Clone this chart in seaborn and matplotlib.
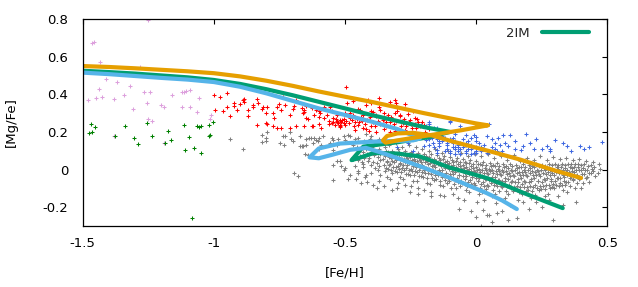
import matplotlib
matplotlib.use("Agg")
import matplotlib.pyplot as plt
import numpy as np
import seaborn as sns

# ---- thick model tracks ([Fe/H], [Mg/Fe]) ----
orange_feh = [-1.5, -1.4, -1.3, -1.2, -1.1, -1.0, -0.9, -0.8, -0.7, -0.6, -0.5, -0.4,
              -0.3, -0.2, -0.1, 0.0, 0.045,
              -0.06, -0.18, -0.3, -0.345, -0.355, -0.34, -0.3, -0.24, -0.17,
              -0.09, 0.05, 0.17, 0.3, 0.4]
orange_mgfe = [0.55, 0.545, 0.538, 0.53, 0.522, 0.512, 0.495, 0.472, 0.445, 0.415, 0.387, 0.36,
               0.33, 0.3, 0.272, 0.245, 0.235,
               0.208, 0.182, 0.155, 0.143, 0.155, 0.178, 0.192, 0.195, 0.182,
               0.149, 0.098, 0.052, -0.005, -0.045]

green_feh = [-1.5, -1.4, -1.3, -1.2, -1.1, -1.0, -0.9, -0.8, -0.7, -0.6, -0.5, -0.4,
             -0.3, -0.2, -0.1,
             -0.18, -0.3, -0.43, -0.475, -0.45, -0.39, -0.3, -0.215,
             -0.1, 0.04, 0.09, 0.2, 0.33]
green_mgfe = [0.525, 0.518, 0.51, 0.5, 0.49, 0.476, 0.455, 0.427, 0.395, 0.36, 0.325, 0.29,
              0.258, 0.226, 0.2,
              0.172, 0.145, 0.122, 0.05, 0.06, 0.088, 0.085, 0.07,
              0.01, -0.045, -0.072, -0.135, -0.205]

blue_feh = [-1.5, -1.4, -1.3, -1.2, -1.1, -1.0, -0.9, -0.8, -0.7, -0.6, -0.5, -0.4,
            -0.3, -0.24, -0.215,
            -0.24, -0.3, -0.4, -0.52, -0.6, -0.635, -0.6, -0.55, -0.48, -0.42,
            -0.35, -0.2, -0.08, 0.04, 0.1, 0.155]
blue_mgfe = [0.515, 0.507, 0.497, 0.487, 0.478, 0.465, 0.44, 0.405, 0.365, 0.325, 0.29, 0.255,
             0.215, 0.18, 0.165,
             0.155, 0.152, 0.148, 0.138, 0.112, 0.065, 0.06, 0.078, 0.105, 0.115,
             0.085, 0.01, -0.055, -0.125, -0.165, -0.21]

# ---- observed stars ----
pink_pts = [(-1.463, 0.675), (-1.458, 0.68), (-1.433, 0.57), (-1.48, 0.367), (-1.45, 0.38),
            (-1.437, 0.43), (-1.425, 0.388), (-1.41, 0.48), (-1.38, 0.374), (-1.37, 0.464),
            (-1.38, 0.179), (-1.342, 0.397), (-1.318, 0.445), (-1.308, 0.321), (-1.28, 0.547),
            (-1.268, 0.414), (-1.245, 0.414), (-1.256, 0.353), (-1.25, 0.27), (-1.237, 0.26),
            (-1.25, 0.795), (-1.2, 0.344), (-1.19, 0.335), (-1.158, 0.395), (-1.12, 0.414),
            (-1.114, 0.411), (-1.108, 0.42), (-1.09, 0.423), (-1.12, 0.332), (-1.09, 0.332),
            (-1.057, 0.381), (-1.065, 0.308), (-1.013, 0.27), (-1.01, 0.29), (-1.19, 0.14)]

green_pts = [(-1.467, 0.243), (-1.477, 0.194), (-1.464, 0.197), (-1.455, 0.225), (-1.375, 0.179),
             (-1.34, 0.232), (-1.303, 0.17), (-1.288, 0.135), (-1.253, 0.248), (-1.235, 0.179),
             (-1.186, 0.14), (-1.176, 0.206), (-1.162, 0.155), (-1.115, 0.236), (-1.095, 0.172),
             (-1.074, 0.117), (-1.064, 0.234), (-1.058, 0.228), (-1.05, 0.234), (-1.02, 0.236),
             (-1.005, 0.252), (-1.015, 0.185), (-1.02, 0.18), (-1.11, 0.103), (-1.05, 0.087),
             (-1.084, -0.257)]

red_pts = [(-1.0, 0.397), (-0.975, 0.388), (-0.95, 0.406), (-0.996, 0.317), (-0.964, 0.312),
           (-0.939, 0.282), (-0.924, 0.353), (-0.925, 0.34), (-0.913, 0.317), (-0.887, 0.37),
           (-0.885, 0.375), (-0.884, 0.36), (-0.868, 0.317), (-0.852, 0.344), (-0.837, 0.377),
           (-0.83, 0.355), (-0.818, 0.321), (-0.814, 0.33), (-0.797, 0.335), (-0.775, 0.3),
           (-0.772, 0.273), (-0.76, 0.335), (-0.745, 0.317), (-0.735, 0.388), (-0.73, 0.345),
           (-0.71, 0.29), (-0.695, 0.338), (-0.685, 0.367), (-0.663, 0.326), (-0.66, 0.3),
           (-0.655, 0.308), (-0.625, 0.326), (-0.62, 0.29), (-0.6, 0.28), (-0.775, 0.229),
           (-0.76, 0.223), (-0.745, 0.22), (-0.797, 0.241), (-0.837, 0.238), (-0.8, 0.245),
           (-0.71, 0.22), (-0.685, 0.232), (-0.657, 0.229), (-0.625, 0.234), (-0.6, 0.24),
           (-0.868, 0.287), (-0.495, 0.438), (-0.657, 0.317), (-0.65, 0.273), (-0.612, 0.317),
           (-0.594, 0.3), (-0.58, 0.273), (-0.556, 0.335), (-0.55, 0.247), (-0.53, 0.255),
           (-0.518, 0.264), (-0.505, 0.247), (-0.52, 0.235), (-0.493, 0.353), (-0.48, 0.273),
           (-0.47, 0.29), (-0.45, 0.238), (-0.443, 0.317), (-0.43, 0.22), (-0.418, 0.264),
           (-0.412, 0.37), (-0.4, 0.353), (-0.393, 0.308), (-0.38, 0.282), (-0.368, 0.317),
           (-0.355, 0.264), (-0.342, 0.229), (-0.336, 0.29), (-0.31, 0.37), (-0.304, 0.353),
           (-0.291, 0.29), (-0.279, 0.247), (-0.266, 0.229), (-0.253, 0.264), (-0.234, 0.273),
           (-0.228, 0.22), (-0.215, 0.229), (-0.196, 0.202), (-0.622, 0.229), (-0.59, 0.22),
           (-0.56, 0.24), (-0.52, 0.23), (-0.42, 0.215), (-0.41, 0.205), (-0.38, 0.2),
           (-0.33, 0.2), (-0.31, 0.205), (-0.545, 0.273), (-0.53, 0.26), (-0.51, 0.265),
           (-0.5, 0.238), (-0.52, 0.228), (-0.54, 0.238), (-0.48, 0.3), (-0.46, 0.25),
           (-0.44, 0.28), (-0.41, 0.265), (-0.4, 0.23), (-0.38, 0.29), (-0.37, 0.33),
           (-0.35, 0.27), (-0.33, 0.255), (-0.31, 0.3), (-0.3, 0.33), (-0.29, 0.285),
           (-0.275, 0.255), (-0.27, 0.35), (-0.26, 0.295), (-0.24, 0.31), (-0.37, 0.38),
           (-0.33, 0.36), (-0.47, 0.365), (-0.42, 0.345), (-0.25, 0.24), (-0.22, 0.255),
           (-0.2, 0.235), (-0.18, 0.215), (-0.64, 0.27), (-0.57, 0.29), (-0.46, 0.21),
           (-0.35, 0.215), (-0.27, 0.21),
           (-0.56, 0.26), (-0.545, 0.25), (-0.535, 0.27), (-0.525, 0.245), (-0.515, 0.255),
           (-0.505, 0.27), (-0.495, 0.26), (-0.485, 0.245), (-0.475, 0.265), (-0.465, 0.23),
           (-0.455, 0.27), (-0.445, 0.25), (-0.435, 0.26), (-0.425, 0.24), (-0.405, 0.28),
           (-0.395, 0.25), (-0.385, 0.23), (-0.375, 0.26), (-0.365, 0.24), (-0.345, 0.25),
           (-0.325, 0.28), (-0.315, 0.24), (-0.305, 0.26), (-0.285, 0.23), (-0.275, 0.27),
           (-0.255, 0.25), (-0.245, 0.22), (-0.235, 0.24), (-0.225, 0.27), (-0.205, 0.25),
           (-0.5, 0.3), (-0.45, 0.32), (-0.4, 0.31), (-0.35, 0.3), (-0.3, 0.31),
           (-0.55, 0.31), (-0.6, 0.31), (-0.65, 0.34), (-0.7, 0.32), (-0.75, 0.35),
           (-0.8, 0.3), (-0.85, 0.33), (-0.9, 0.35), (-0.95, 0.33), (-0.58, 0.33),
           (-0.53, 0.29), (-0.43, 0.29)]

blue_pts = [(-0.21, 0.238), (-0.18, 0.24), (-0.16, 0.22), (-0.1, 0.25), (-0.06, 0.229),
            (0.05, 0.241), (-0.037, 0.185), (-0.01, 0.185), (0.0, 0.175), (0.04, 0.18),
            (0.103, 0.185), (0.13, 0.185), (0.19, 0.19), (0.23, 0.162), (0.3, 0.158),
            (0.479, 0.146), (0.396, 0.123), (0.41, 0.11), (0.345, 0.123), (0.27, 0.123),
            (0.28, 0.11), (0.25, 0.11), (0.205, 0.14), (0.18, 0.123), (0.15, 0.11),
            (0.12, 0.123), (0.1, 0.1), (0.07, 0.11), (0.05, 0.095), (0.025, 0.11),
            (0.0, 0.09), (-0.02, 0.11), (-0.04, 0.09), (-0.06, 0.08), (-0.08, 0.12),
            (-0.09, 0.14), (-0.113, 0.14), (-0.14, 0.123), (-0.165, 0.14), (-0.19, 0.158),
            (-0.2, 0.123), (-0.15, 0.105), (-0.1, 0.1), (-0.07, 0.12), (-0.04, 0.14),
            (0.0, 0.15), (0.07, 0.14), (0.17, 0.105), (0.22, 0.11), (0.28, 0.1),
            (-0.15, 0.16), (-0.13, 0.15), (-0.12, 0.17), (-0.11, 0.13), (-0.1, 0.16),
            (-0.09, 0.12), (-0.08, 0.15), (-0.07, 0.1), (-0.06, 0.14), (-0.05, 0.12),
            (-0.04, 0.1), (-0.03, 0.15), (-0.02, 0.13), (-0.01, 0.09), (0.0, 0.12),
            (0.01, 0.14), (0.02, 0.1), (0.03, 0.13), (-0.14, 0.14), (-0.16, 0.12),
            (-0.12, 0.1), (-0.1, 0.09), (-0.08, 0.08), (-0.06, 0.11), (-0.04, 0.13),
            (-0.02, 0.08), (0.0, 0.1), (0.02, 0.12), (0.04, 0.09), (-0.17, 0.17),
            (-0.13, 0.18), (-0.09, 0.17), (-0.05, 0.16), (-0.11, 0.11), (-0.07, 0.13),
            (-0.03, 0.11), (-0.15, 0.09), (0.06, 0.12), (0.08, 0.1), (0.09, 0.13),
            (-0.19, 0.229), (-0.18, 0.25), (-0.15, 0.22), (-0.1, 0.26), (-0.14, 0.15),
            (-0.18, 0.16), (-0.08, 0.19), (-0.08, 0.11), (0.084, 0.167), (-0.18, 0.13),
            (-0.26, 0.14), (-0.3, 0.12), (-0.24, 0.1), (0.33, 0.14), (0.36, 0.1),
            (0.43, 0.12), (0.15, 0.15), (0.11, 0.14), (-0.02, 0.17), (0.06, 0.16)]

gray_pts = [
    # sparse metal-poor tail
    (-0.94, 0.162), (-0.887, 0.11), (-0.818, 0.185), (-0.8, 0.17), (-0.803, 0.15), (-0.818, 0.146),
    (-0.747, 0.14), (-0.73, 0.18), (-0.733, 0.13), (-0.705, 0.16), (-0.7, 0.15), (-0.663, 0.123),
    (-0.65, 0.13), (-0.672, 0.125), (-0.62, 0.17), (-0.623, 0.14), (-0.6, 0.11), (-0.603, 0.15),
    (-0.695, -0.019), (-0.68, -0.033), (-0.66, 0.123), (-0.63, 0.167), (-0.598, 0.167), (-0.585, 0.18),
    (-0.546, 0.158), (-0.53, 0.13), (-0.5, 0.158), (-0.49, 0.185), (-0.546, 0.026), (-0.53, 0.045),
    (-0.515, 0.02), (-0.5, 0.01), (-0.505, 0.0), (-0.48, -0.028), (-0.546, -0.054), (-0.49, -0.05),
    (-0.45, -0.01), (-0.46, 0.02), (-0.445, 0.06), (-0.43, 0.03), (-0.654, 0.08), (-0.64, 0.075),
    (-0.636, 0.167), (-0.55, 0.17), (-0.502, 0.18), (-0.47, 0.13), (-0.557, 0.14), (-0.528, 0.16),
    (-0.48, 0.18), (-0.45, 0.17), (-0.42, 0.19), (-0.4, 0.18), (-0.37, 0.16), (-0.61, 0.158),
    (-0.59, 0.13), (-0.546, 0.105), (-0.52, 0.043), (-0.44, -0.07), (-0.42, -0.03), (-0.797, 0.2),
    (-0.735, 0.18), (-0.71, 0.2), (-0.67, 0.18), (-0.65, 0.16),
    # main thin-disc cloud
    (-0.462, 0.16), (-0.455, 0.12), (-0.447, 0.1), (-0.458, 0.085), (-0.441, 0.07), (-0.452, 0.05),
    (-0.436, 0.04), (-0.449, -0.02), (-0.457, -0.05),
    (-0.428, 0.15), (-0.421, 0.11), (-0.433, 0.095), (-0.417, 0.08), (-0.426, 0.06), (-0.414, 0.045),
    (-0.43, 0.012), (-0.422, -0.04), (-0.418, -0.065),
    (-0.405, 0.16), (-0.398, 0.12), (-0.393, 0.1), (-0.401, 0.09), (-0.389, 0.075), (-0.407, 0.06),
    (-0.395, 0.04), (-0.402, 0.025), (-0.386, 0.01), (-0.399, -0.02), (-0.392, -0.08),
    (-0.381, 0.14), (-0.372, 0.11), (-0.378, 0.095), (-0.368, 0.08), (-0.376, 0.065), (-0.365, 0.05),
    (-0.379, 0.035), (-0.37, 0.02), (-0.374, 0.0), (-0.367, -0.03), (-0.371, -0.06), (-0.377, -0.1),
    (-0.356, 0.15), (-0.349, 0.12), (-0.343, 0.1), (-0.352, 0.085), (-0.346, 0.07), (-0.355, 0.055),
    (-0.341, 0.04), (-0.35, 0.025), (-0.344, 0.01), (-0.348, -0.01), (-0.339, -0.04), (-0.353, -0.09),
    (-0.331, 0.13), (-0.322, 0.1), (-0.328, 0.09), (-0.318, 0.075), (-0.326, 0.06), (-0.32, 0.045),
    (-0.33, 0.03), (-0.316, 0.015), (-0.324, 0.0), (-0.319, -0.02), (-0.327, -0.05), (-0.321, -0.11),
    (-0.306, 0.14), (-0.298, 0.11), (-0.293, 0.095), (-0.301, 0.08), (-0.295, 0.065), (-0.304, 0.05),
    (-0.291, 0.035), (-0.299, 0.02), (-0.294, 0.005), (-0.302, -0.015), (-0.289, -0.04), (-0.297, -0.07),
    (-0.3, -0.1),
    (-0.281, 0.12), (-0.272, 0.1), (-0.278, 0.085), (-0.268, 0.07), (-0.276, 0.055), (-0.27, 0.04),
    (-0.279, 0.025), (-0.266, 0.01), (-0.274, -0.005), (-0.269, -0.025), (-0.277, -0.05), (-0.271, -0.08),
    (-0.256, 0.13), (-0.249, 0.095), (-0.243, 0.08), (-0.252, 0.065), (-0.246, 0.05), (-0.255, 0.035),
    (-0.241, 0.02), (-0.25, 0.005), (-0.244, -0.01), (-0.253, -0.03), (-0.239, -0.06), (-0.247, -0.09),
    (-0.251, -0.12),
    (-0.231, 0.12), (-0.222, 0.09), (-0.228, 0.075), (-0.218, 0.06), (-0.226, 0.045), (-0.22, 0.03),
    (-0.229, 0.015), (-0.216, 0.0), (-0.224, -0.015), (-0.219, -0.035), (-0.227, -0.06), (-0.221, -0.1),
    (-0.223, -0.13),
    (-0.206, 0.11), (-0.199, 0.085), (-0.193, 0.07), (-0.202, 0.055), (-0.196, 0.04), (-0.205, 0.025),
    (-0.191, 0.01), (-0.2, -0.005), (-0.194, -0.02), (-0.203, -0.04), (-0.189, -0.07), (-0.197, -0.11),
    (-0.181, 0.1), (-0.172, 0.08), (-0.178, 0.065), (-0.168, 0.05), (-0.176, 0.035), (-0.17, 0.02),
    (-0.179, 0.005), (-0.166, -0.01), (-0.174, -0.025), (-0.169, -0.045), (-0.177, -0.075), (-0.171, -0.12),
    (-0.173, -0.14),
    (-0.156, 0.11), (-0.149, 0.075), (-0.143, 0.06), (-0.152, 0.045), (-0.146, 0.03), (-0.155, 0.015),
    (-0.141, 0.0), (-0.15, -0.015), (-0.144, -0.03), (-0.153, -0.05), (-0.139, -0.08), (-0.139, -0.134),
    (-0.131, 0.09), (-0.122, 0.07), (-0.128, 0.055), (-0.118, 0.04), (-0.126, 0.025), (-0.12, 0.01),
    (-0.129, -0.005), (-0.116, -0.02), (-0.124, -0.035), (-0.119, -0.055), (-0.127, -0.09), (-0.121, -0.14),
    (-0.106, 0.1), (-0.099, 0.065), (-0.093, 0.05), (-0.102, 0.035), (-0.096, 0.02), (-0.105, 0.005),
    (-0.091, -0.01), (-0.1, -0.025), (-0.094, -0.04), (-0.103, -0.06), (-0.09, -0.13), (-0.097, -0.1),
    (-0.081, 0.08), (-0.072, 0.06), (-0.078, 0.045), (-0.068, 0.03), (-0.076, 0.015), (-0.07, 0.0),
    (-0.079, -0.015), (-0.066, -0.03), (-0.074, -0.045), (-0.069, -0.065), (-0.077, -0.1), (-0.065, -0.21),
    (-0.071, -0.15),
    (-0.056, 0.09), (-0.049, 0.055), (-0.043, 0.04), (-0.052, 0.025), (-0.046, 0.01), (-0.055, -0.005),
    (-0.041, -0.02), (-0.05, -0.035), (-0.044, -0.05), (-0.053, -0.07), (-0.039, -0.11), (-0.047, -0.16),
    (-0.031, 0.07), (-0.022, 0.05), (-0.028, 0.035), (-0.018, 0.02), (-0.026, 0.005), (-0.02, -0.01),
    (-0.029, -0.025), (-0.016, -0.04), (-0.024, -0.055), (-0.019, -0.075), (-0.027, -0.12), (-0.02, -0.22),
    (-0.006, 0.08), (0.001, 0.045), (0.007, 0.03), (-0.002, 0.015), (0.004, 0.0), (-0.005, -0.015),
    (0.009, -0.03), (0.0, -0.045), (0.006, -0.06), (-0.003, -0.08), (0.011, -0.13), (0.003, -0.17),
    (0.0, -0.25), (0.02, -0.3),
    (0.019, 0.07), (0.028, 0.04), (0.022, 0.025), (0.032, 0.01), (0.024, -0.005), (0.03, -0.02),
    (0.021, -0.035), (0.034, -0.05), (0.026, -0.065), (0.031, -0.085), (0.023, -0.12), (0.027, -0.213),
    (0.029, -0.16),
    (0.044, 0.085), (0.051, 0.035), (0.057, 0.02), (0.048, 0.005), (0.054, -0.01), (0.045, -0.025),
    (0.059, -0.04), (0.05, -0.055), (0.056, -0.07), (0.047, -0.09), (0.061, -0.14), (0.04, -0.24),
    (0.05, -0.24), (0.06, -0.28),
    (0.069, 0.06), (0.078, 0.035), (0.072, 0.02), (0.082, 0.005), (0.074, -0.01), (0.08, -0.025),
    (0.071, -0.04), (0.084, -0.055), (0.076, -0.07), (0.081, -0.09), (0.073, -0.13), (0.08, -0.23),
    (0.077, -0.18),
    (0.094, 0.07), (0.101, 0.03), (0.107, 0.015), (0.098, 0.0), (0.104, -0.015), (0.095, -0.03),
    (0.109, -0.045), (0.1, -0.06), (0.106, -0.075), (0.097, -0.095), (0.111, -0.15), (0.1, -0.22),
    (0.12, -0.27),
    (0.119, 0.05), (0.128, 0.03), (0.122, 0.01), (0.132, -0.005), (0.124, -0.02), (0.13, -0.035),
    (0.121, -0.05), (0.134, -0.065), (0.126, -0.08), (0.131, -0.1), (0.123, -0.13), (0.129, -0.19),
    (0.144, 0.075), (0.151, 0.025), (0.157, 0.01), (0.148, -0.005), (0.154, -0.02), (0.145, -0.035),
    (0.159, -0.05), (0.15, -0.065), (0.156, -0.085), (0.147, -0.105), (0.161, -0.16), (0.154, -0.257),
    (0.169, 0.045), (0.178, 0.03), (0.172, 0.015), (0.182, 0.0), (0.174, -0.015), (0.18, -0.03),
    (0.171, -0.045), (0.184, -0.06), (0.176, -0.075), (0.181, -0.095), (0.173, -0.13), (0.179, -0.175),
    (0.194, 0.06), (0.201, 0.025), (0.207, 0.01), (0.198, -0.005), (0.204, -0.02), (0.195, -0.035),
    (0.209, -0.05), (0.2, -0.065), (0.206, -0.085), (0.197, -0.11), (0.211, -0.15), (0.2, -0.21),
    (0.219, 0.05), (0.228, 0.03), (0.222, 0.015), (0.232, 0.0), (0.224, -0.015), (0.23, -0.03),
    (0.221, -0.045), (0.234, -0.06), (0.226, -0.08), (0.231, -0.1), (0.223, -0.135), (0.229, -0.17),
    (0.244, 0.07), (0.251, 0.025), (0.257, 0.01), (0.248, -0.005), (0.254, -0.02), (0.245, -0.035),
    (0.259, -0.05), (0.25, -0.065), (0.256, -0.085), (0.247, -0.105), (0.261, -0.14), (0.25, -0.2),
    (0.269, 0.05), (0.278, 0.03), (0.272, 0.015), (0.282, 0.0), (0.274, -0.015), (0.28, -0.03),
    (0.271, -0.045), (0.284, -0.06), (0.276, -0.08), (0.281, -0.1), (0.273, -0.13), (0.279, -0.16),
    (0.294, 0.065), (0.301, 0.03), (0.307, 0.015), (0.298, 0.0), (0.304, -0.015), (0.295, -0.03),
    (0.309, -0.045), (0.3, -0.06), (0.306, -0.08), (0.297, -0.1), (0.311, -0.143), (0.294, -0.266),
    (0.319, 0.055), (0.328, 0.03), (0.322, 0.015), (0.332, 0.0), (0.324, -0.015), (0.33, -0.03),
    (0.321, -0.045), (0.334, -0.06), (0.326, -0.08), (0.331, -0.11), (0.33, -0.19),
    (0.344, 0.06), (0.351, 0.03), (0.357, 0.015), (0.348, 0.0), (0.354, -0.015), (0.345, -0.03),
    (0.359, -0.045), (0.35, -0.065), (0.356, -0.09), (0.347, -0.12),
    (0.369, 0.05), (0.378, 0.03), (0.372, 0.015), (0.382, 0.0), (0.374, -0.015), (0.38, -0.035),
    (0.371, -0.05), (0.384, -0.07), (0.376, -0.1), (0.38, -0.17),
    (0.394, 0.055), (0.401, 0.025), (0.407, 0.01), (0.398, -0.005), (0.404, -0.025), (0.395, -0.045),
    (0.409, -0.07), (0.4, -0.1),
    (0.419, 0.045), (0.428, 0.02), (0.422, 0.0), (0.432, -0.02), (0.424, -0.04), (0.43, -0.065),
    (0.444, 0.04), (0.451, 0.015), (0.447, -0.01), (0.455, -0.035),
    (0.468, 0.03), (0.472, 0.005), (0.465, -0.02),
]

# densest part of the thin-disc cloud
gray_core = [
    (-0.337, 0.095), (-0.334, 0.068), (-0.339, 0.047), (-0.332, 0.022), (-0.336, 0.003),
    (-0.312, 0.088), (-0.309, 0.061), (-0.314, 0.038), (-0.307, 0.012), (-0.311, -0.008),
    (-0.287, 0.083), (-0.284, 0.058), (-0.289, 0.031), (-0.282, 0.007), (-0.286, -0.015),
    (-0.262, 0.078), (-0.259, 0.05), (-0.264, 0.024), (-0.257, -0.002), (-0.261, -0.022), (-0.263, 0.064),
    (-0.237, 0.072), (-0.234, 0.046), (-0.239, 0.018), (-0.232, -0.008), (-0.236, -0.03), (-0.238, 0.058),
    (-0.212, 0.068), (-0.209, 0.038), (-0.214, 0.012), (-0.207, -0.014), (-0.211, -0.036), (-0.213, 0.052),
    (-0.187, 0.062), (-0.184, 0.032), (-0.189, 0.004), (-0.182, -0.02), (-0.186, -0.044), (-0.188, 0.046),
    (-0.162, 0.058), (-0.159, 0.026), (-0.164, -0.004), (-0.157, -0.03), (-0.161, -0.055), (-0.163, 0.04),
    (-0.137, 0.052), (-0.134, 0.02), (-0.139, -0.012), (-0.132, -0.04), (-0.136, -0.062), (-0.138, 0.034),
    (-0.112, 0.048), (-0.109, 0.014), (-0.114, -0.018), (-0.107, -0.047), (-0.111, -0.07), (-0.113, 0.03),
    (-0.087, 0.042), (-0.084, 0.008), (-0.089, -0.024), (-0.082, -0.053), (-0.086, -0.078), (-0.088, 0.024),
    (-0.062, 0.038), (-0.059, 0.004), (-0.064, -0.03), (-0.057, -0.06), (-0.061, -0.085), (-0.063, 0.018),
    (-0.037, 0.034), (-0.034, -0.002), (-0.039, -0.036), (-0.032, -0.066), (-0.036, -0.09), (-0.038, 0.014),
    (-0.012, 0.03), (-0.009, -0.008), (-0.014, -0.042), (-0.007, -0.07), (-0.011, -0.095), (-0.013, 0.008),
    (0.013, 0.027), (0.016, -0.012), (0.011, -0.046), (0.018, -0.075), (0.014, -0.1), (0.012, 0.004),
    (0.038, 0.025), (0.041, -0.016), (0.036, -0.05), (0.043, -0.08), (0.039, -0.105), (0.037, 0.0),
    (0.063, 0.022), (0.066, -0.02), (0.061, -0.055), (0.068, -0.083), (0.064, -0.11), (0.062, -0.004),
    (0.088, 0.02), (0.091, -0.022), (0.086, -0.058), (0.093, -0.086), (0.089, -0.112), (0.087, -0.006),
    (0.113, 0.018), (0.116, -0.026), (0.111, -0.06), (0.118, -0.09), (0.114, -0.115), (0.112, -0.008),
    (0.138, 0.017), (0.141, -0.028), (0.136, -0.062), (0.143, -0.092), (0.139, -0.116), (0.137, -0.01),
    (0.163, 0.016), (0.166, -0.03), (0.161, -0.064), (0.168, -0.094), (0.164, -0.117), (0.162, -0.012),
    (0.188, 0.016), (0.191, -0.03), (0.186, -0.065), (0.193, -0.094), (0.189, -0.116), (0.187, -0.012),
    (0.213, 0.017), (0.216, -0.028), (0.211, -0.063), (0.218, -0.092), (0.214, -0.113), (0.212, -0.01),
    (0.238, 0.018), (0.241, -0.026), (0.236, -0.06), (0.243, -0.088), (0.239, -0.108), (0.237, -0.008),
    (0.263, 0.02), (0.266, -0.024), (0.261, -0.056), (0.268, -0.083), (0.264, -0.102), (0.262, -0.005),
    (0.288, 0.022), (0.291, -0.02), (0.286, -0.052), (0.293, -0.078), (0.289, -0.095), (0.287, -0.002),
    (0.313, 0.024), (0.316, -0.016), (0.311, -0.047), (0.318, -0.072), (0.314, -0.088), (0.312, 0.002),
    (0.338, 0.026), (0.341, -0.012), (0.336, -0.042), (0.343, -0.066), (0.339, -0.08), (0.337, 0.006),
    (0.363, 0.028), (0.366, -0.008), (0.361, -0.036), (0.368, -0.058), (0.364, 0.01),
    (0.388, 0.03), (0.391, -0.004), (0.386, -0.03), (0.393, -0.05), (0.389, 0.012),
    (0.413, 0.03), (0.416, 0.0), (0.411, -0.025), (0.418, -0.045),
    (0.438, 0.025), (0.441, 0.002), (0.436, -0.02),
]

sns.set_theme(style="white")
plt.rcParams["font.family"] = ["DejaVu Sans"]
plt.rcParams["axes.unicode_minus"] = False

fig = plt.figure(figsize=(6.38, 2.87), dpi=100)
ax = fig.add_axes([82.7 / 638, 1 - 226 / 287, 524.6 / 638, 207 / 287])

for pts, col in [(gray_pts + gray_core, "#808080"), (red_pts, "#ff0000"), (blue_pts, "#4169e1"),
                 (pink_pts, "#dda0dd"), (green_pts, "#008000")]:
    a = np.array(pts)
    sns.scatterplot(x=a[:, 0], y=a[:, 1], marker="+", color=col, s=12,
                    linewidth=0.75, ax=ax, legend=False)

sns.lineplot(x=green_feh, y=green_mgfe, sort=False, estimator=None,
             color="#009e73", lw=3, label="2IM", ax=ax)
sns.lineplot(x=blue_feh, y=blue_mgfe, sort=False, estimator=None,
             color="#56b4e9", lw=3, ax=ax)
sns.lineplot(x=orange_feh, y=orange_mgfe, sort=False, estimator=None,
             color="#e69f00", lw=3, ax=ax)

ax.set_xlim(-1.5, 0.5)
ax.set_ylim(-0.3, 0.8)
ax.set_xticks([-1.5, -1.0, -0.5, 0.0, 0.5])
ax.set_xticklabels(["-1.5", "-1", "-0.5", "0", "0.5"])
ax.set_yticks([-0.2, 0.0, 0.2, 0.4, 0.6, 0.8])
ax.set_yticklabels(["-0.2", "0", "0.2", "0.4", "0.6", "0.8"])
ax.tick_params(direction="in", top=True, right=True, length=3.3, width=0.8,
               color="black", labelcolor="black", labelsize=9.5)
ax.tick_params(axis="x", pad=8)
ax.tick_params(axis="y", pad=10.5)
for s in ax.spines.values():
    s.set_color("black")
    s.set_linewidth(0.9)

ax.set_xlabel("[Fe/H]", fontsize=9.5, color="black", va="center")
ax.xaxis.set_label_coords(0.5, -46.7 / 207)
ax.set_ylabel("[Mg/Fe]", fontsize=9.5, color="black", va="center")
ax.yaxis.set_label_coords(-71.2 / 524.6, 0.5)

ax.legend(loc="center right", bbox_to_anchor=((588.7 - 82.7) / 524.6, (226 - 33.3) / 207),
          frameon=False, markerfirst=False, handlelength=3.56, handletextpad=0.9,
          borderpad=0, borderaxespad=0, fontsize=9.5)

fig.savefig("out.png", dpi=100)
